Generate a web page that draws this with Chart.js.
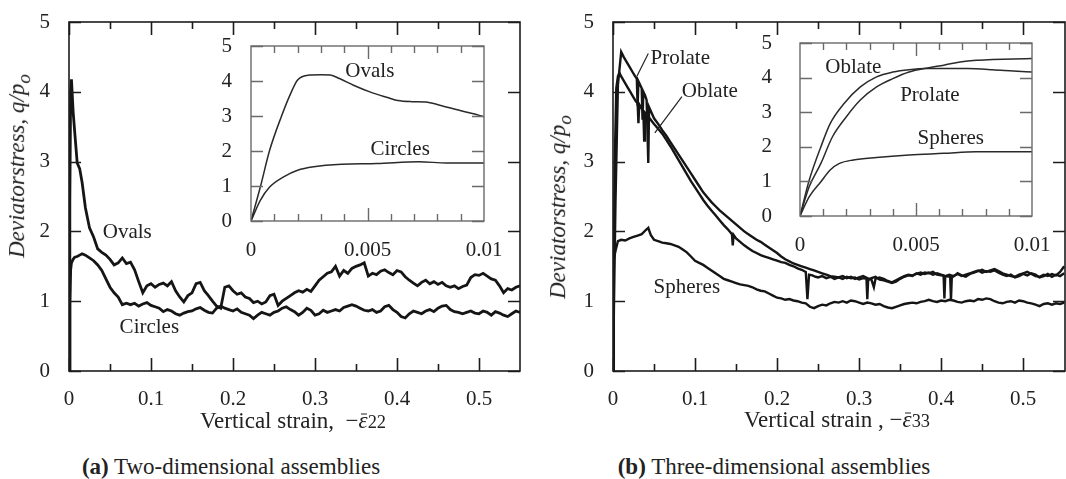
<!DOCTYPE html>
<html>
<head>
<meta charset="utf-8">
<script src="https://cdn.jsdelivr.net/npm/chart.js@4.4.1/dist/chart.umd.min.js"></script>
<style>
  body { margin: 0; background: #fff; }
  #page { position: relative; width: 1066px; height: 479px; overflow: hidden; font-family: "Liberation Serif", "DejaVu Serif", serif; color: #222; }
  canvas { position: absolute; }
  .txt { position: absolute; white-space: nowrap; transform: translate(-50%, -50%); line-height: 1; }
  .ytitle { font-style: italic; font-size: 23px; transform: translate(-50%, -50%) rotate(-90deg); }
  .xtitle { font-size: 23px; }
  .cap { font-size: 23px; }
  .ob { position: relative; font-style: italic; }
  .ob::before { content: ""; position: absolute; left: 0.12em; right: 0.02em; top: 0.28em; border-top: 1.3px solid #222; }
  .sm { font-size: 0.8em; }
</style>
</head>
<body>
<div id="page">
  <canvas id="mainA" width="540" height="440" style="left:0;top:-20px"></canvas>
  <canvas id="insetA" width="302" height="264" style="left:212px;top:6px"></canvas>
  <canvas id="mainB" width="526" height="440" style="left:540px;top:-20px"></canvas>
  <canvas id="insetB" width="302" height="265" style="left:760px;top:3px"></canvas>

  <div class="txt ytitle" style="left:19px;top:166px">Deviatorstress, q/p<sub>o</sub></div>
  <div class="txt ytitle" style="left:560px;top:207px">Deviatorstress, q/p<sub>o</sub></div>
  <div class="txt xtitle" style="left:293px;top:420px">Vertical strain,&nbsp; −<span class="ob">ε</span><span class="sm">22</span></div>
  <div class="txt xtitle" style="left:837px;top:419px">Vertical strain , −<span class="ob">ε</span><span class="sm">33</span></div>
  <div class="txt cap" style="left:231px;top:466px"><b>(a)</b> Two-dimensional assemblies</div>
  <div class="txt cap" style="left:774px;top:466px"><b>(b)</b> Three-dimensional assemblies</div>
</div>
<script>
// ---- tick values ----
const stressTicks = [0, 1, 2, 3, 4, 5];
const strainTicks = [0, 0.1, 0.2, 0.3, 0.4, 0.5];
const strainMinor = [0.05, 0.15, 0.25, 0.35, 0.45];
const smallStrainTicks = [0, 0.005, 0.01];
const smallStrainMinor = [0.001, 0.002, 0.003, 0.004, 0.006, 0.007, 0.008, 0.009];

// ---- (a) two-dimensional assemblies: [strain, q/p0] ----
const ovals2d = [
  [0,0],[0.001,2.4],[0.002,4.0],[0.003,4.18],[0.005,3.72],[0.007,3.42],[0.01,2.98],[0.013,2.9],[0.016,2.7],
  [0.02,2.34],[0.025,2.05],[0.03,1.92],[0.035,1.75],[0.04,1.7],[0.045,1.66],[0.05,1.6],[0.055,1.52],[0.06,1.55],
  [0.065,1.62],[0.07,1.54],[0.075,1.56],[0.08,1.45],[0.085,1.28],[0.09,1.12],[0.095,1.22],[0.1,1.25],[0.105,1.2],
  [0.11,1.24],[0.115,1.26],[0.12,1.22],[0.125,1.28],[0.13,1.15],[0.135,1.06],[0.14,0.99],[0.145,1.08],[0.15,1.12],
  [0.155,1.25],[0.16,1.27],[0.165,1.15],[0.17,1.08],[0.175,1.0],[0.18,0.93],[0.185,0.9],[0.19,1.2],[0.195,1.22],
  [0.2,1.15],[0.205,1.1],[0.21,1.12],[0.215,1.06],[0.22,1.04],[0.225,0.98],[0.23,1.0],[0.235,0.96],[0.24,0.99],
  [0.245,1.08],[0.25,1.1],[0.255,0.94],[0.26,1.0],[0.265,1.04],[0.27,1.08],[0.275,1.12],[0.28,1.15],[0.285,1.13],
  [0.29,1.17],[0.295,1.14],[0.3,1.22],[0.305,1.3],[0.31,1.35],[0.315,1.4],[0.32,1.42],[0.325,1.5],[0.33,1.36],
  [0.335,1.44],[0.34,1.4],[0.345,1.47],[0.35,1.5],[0.355,1.52],[0.36,1.55],[0.365,1.36],[0.37,1.4],[0.375,1.38],
  [0.38,1.43],[0.385,1.45],[0.39,1.41],[0.395,1.38],[0.4,1.44],[0.405,1.42],[0.41,1.35],[0.415,1.3],[0.42,1.26],
  [0.425,1.22],[0.43,1.27],[0.435,1.3],[0.44,1.25],[0.445,1.28],[0.45,1.24],[0.455,1.27],[0.46,1.22],[0.465,1.2],
  [0.47,1.22],[0.475,1.18],[0.48,1.21],[0.485,1.23],[0.49,1.34],[0.495,1.38],[0.5,1.37],[0.505,1.4],[0.51,1.36],
  [0.515,1.32],[0.52,1.3],[0.525,1.22],[0.53,1.12],[0.535,1.18],[0.54,1.16],[0.545,1.2],[0.55,1.22]
];
const circles2d = [
  [0,0],[0.001,0.95],[0.002,1.45],[0.003,1.55],[0.005,1.6],[0.007,1.63],[0.01,1.64],[0.013,1.66],[0.016,1.68],
  [0.02,1.66],[0.025,1.62],[0.03,1.58],[0.035,1.52],[0.04,1.44],[0.045,1.32],[0.05,1.2],[0.055,1.12],[0.06,1.06],
  [0.065,0.95],[0.07,0.97],[0.075,0.95],[0.08,0.97],[0.085,0.93],[0.09,0.96],[0.095,0.98],[0.1,0.94],[0.105,0.92],
  [0.11,0.9],[0.115,0.85],[0.12,0.88],[0.125,0.86],[0.13,0.82],[0.135,0.8],[0.14,0.83],[0.145,0.85],[0.15,0.86],
  [0.155,0.89],[0.16,0.91],[0.165,0.87],[0.17,0.84],[0.175,0.83],[0.18,0.9],[0.185,0.93],[0.19,0.9],[0.195,0.88],
  [0.2,0.86],[0.205,0.89],[0.21,0.84],[0.215,0.82],[0.22,0.8],[0.225,0.75],[0.23,0.8],[0.235,0.84],[0.24,0.82],
  [0.245,0.8],[0.25,0.84],[0.255,0.86],[0.26,0.9],[0.265,0.92],[0.27,0.88],[0.275,0.85],[0.28,0.8],[0.285,0.84],
  [0.29,0.9],[0.295,0.87],[0.3,0.8],[0.305,0.82],[0.31,0.87],[0.315,0.84],[0.32,0.86],[0.325,0.88],[0.33,0.86],
  [0.335,0.91],[0.34,0.93],[0.345,0.95],[0.35,0.93],[0.355,0.9],[0.36,0.87],[0.365,0.86],[0.37,0.88],[0.375,0.84],
  [0.38,0.86],[0.385,0.92],[0.39,0.94],[0.395,0.88],[0.4,0.84],[0.405,0.78],[0.41,0.76],[0.415,0.82],[0.42,0.86],
  [0.425,0.84],[0.43,0.82],[0.435,0.86],[0.44,0.88],[0.445,0.85],[0.45,0.9],[0.455,0.93],[0.46,0.94],[0.465,0.88],
  [0.47,0.85],[0.475,0.84],[0.48,0.82],[0.485,0.84],[0.49,0.86],[0.495,0.83],[0.5,0.82],[0.505,0.86],[0.51,0.84],
  [0.515,0.8],[0.52,0.85],[0.525,0.83],[0.53,0.8],[0.535,0.78],[0.54,0.82],[0.545,0.86],[0.55,0.84]
];
const ovals2dSmall = [
  [0,0],[0.0004,0.97],[0.0008,2.02],[0.0013,2.98],[0.0017,3.64],[0.002,4.03],[0.0025,4.17],[0.003,4.18],
  [0.0034,4.17],[0.0038,4.07],[0.0044,3.88],[0.0051,3.69],[0.0059,3.52],[0.0063,3.44],[0.0069,3.41],
  [0.0075,3.4],[0.0081,3.31],[0.0089,3.17],[0.0095,3.07],[0.01,2.98]
];
const circles2dSmall = [
  [0,0],[0.0004,0.59],[0.0008,0.97],[0.0014,1.26],[0.002,1.45],[0.0027,1.55],[0.0039,1.62],[0.0054,1.64],
  [0.0072,1.69],[0.0084,1.66],[0.01,1.66]
];

// ---- (b) three-dimensional assemblies ----
const prolate3d = [
  [0,0],[0.003,2.4],[0.006,4.1],[0.01,4.57],[0.013,4.5],[0.016,4.44],[0.02,4.36],[0.024,4.28],[0.027,4.22],
  [0.029,4.19],[0.03,3.8],[0.031,4.15],[0.033,4.1],[0.035,4.05],[0.036,3.6],[0.037,4.0],[0.039,3.95],[0.041,3.88],
  [0.043,2.98],[0.044,3.78],[0.047,3.7],[0.05,3.62],[0.055,3.54],[0.06,3.45],[0.065,3.37],[0.07,3.28],[0.075,3.19],
  [0.08,3.1],[0.085,3.01],[0.09,2.92],[0.095,2.83],[0.1,2.74],[0.105,2.65],[0.11,2.56],[0.115,2.49],[0.12,2.42],
  [0.125,2.36],[0.13,2.3],[0.135,2.25],[0.14,2.2],[0.145,2.15],[0.15,2.1],[0.155,2.05],[0.16,2.0],[0.165,1.96],
  [0.17,1.92],[0.175,1.88],[0.18,1.85],[0.185,1.81],[0.19,1.77],[0.195,1.73],[0.2,1.69],[0.205,1.64],[0.21,1.6],
  [0.215,1.57],[0.22,1.54],[0.225,1.52],[0.23,1.5],[0.235,1.48],[0.24,1.46],[0.245,1.44],[0.25,1.42],[0.255,1.4],
  [0.26,1.38],[0.265,1.36],[0.27,1.35],[0.275,1.34],[0.28,1.32],[0.285,1.35],[0.29,1.33],[0.295,1.34],[0.3,1.31],
  [0.305,1.33],[0.309,1.32],[0.31,1.03],[0.311,1.3],[0.315,1.33],[0.32,1.35],[0.325,1.31],[0.33,1.3],[0.335,1.28],
  [0.34,1.26],[0.345,1.28],[0.35,1.32],[0.355,1.35],[0.36,1.37],[0.365,1.36],[0.37,1.4],[0.375,1.38],[0.38,1.41],
  [0.385,1.4],[0.39,1.42],[0.395,1.38],[0.4,1.37],[0.405,1.36],[0.411,1.35],[0.412,1.02],[0.413,1.34],[0.418,1.38],
  [0.42,1.4],[0.425,1.37],[0.43,1.35],[0.435,1.39],[0.44,1.41],[0.445,1.43],[0.45,1.45],[0.455,1.42],[0.46,1.44],
  [0.465,1.46],[0.47,1.43],[0.475,1.4],[0.48,1.38],[0.485,1.36],[0.49,1.35],[0.495,1.38],[0.5,1.4],[0.505,1.42],
  [0.51,1.39],[0.515,1.36],[0.52,1.35],[0.525,1.38],[0.53,1.36],[0.535,1.39],[0.54,1.37],[0.545,1.42],[0.55,1.5]
];
const oblate3d = [
  [0,0],[0.002,2.9],[0.004,4.05],[0.006,4.22],[0.008,4.27],[0.01,4.22],[0.013,4.16],[0.016,4.1],[0.02,4.02],
  [0.025,3.92],[0.028,3.86],[0.03,3.84],[0.031,3.55],[0.032,3.82],[0.035,3.76],[0.037,3.72],[0.038,3.3],[0.039,3.7],
  [0.042,3.66],[0.046,3.6],[0.05,3.54],[0.055,3.47],[0.06,3.4],[0.065,3.31],[0.07,3.22],[0.075,3.12],[0.08,3.02],
  [0.085,2.92],[0.09,2.82],[0.095,2.72],[0.1,2.63],[0.105,2.54],[0.11,2.45],[0.115,2.37],[0.12,2.3],[0.125,2.23],
  [0.13,2.16],[0.135,2.09],[0.14,2.03],[0.145,1.96],[0.146,1.8],[0.147,1.95],[0.15,1.9],[0.155,1.85],[0.16,1.8],
  [0.165,1.76],[0.17,1.72],[0.175,1.69],[0.18,1.66],[0.185,1.64],[0.19,1.62],[0.195,1.6],[0.2,1.58],[0.205,1.56],
  [0.21,1.55],[0.215,1.52],[0.22,1.5],[0.225,1.47],[0.23,1.45],[0.235,1.42],[0.237,1.03],[0.239,1.38],[0.243,1.37],
  [0.247,1.35],[0.25,1.34],[0.255,1.36],[0.26,1.33],[0.265,1.35],[0.27,1.32],[0.275,1.34],[0.28,1.36],[0.285,1.33],
  [0.29,1.35],[0.295,1.32],[0.3,1.34],[0.305,1.36],[0.31,1.33],[0.315,1.31],[0.318,1.2],[0.32,1.32],[0.325,1.34],
  [0.33,1.32],[0.335,1.29],[0.34,1.27],[0.345,1.3],[0.35,1.33],[0.355,1.36],[0.36,1.38],[0.365,1.37],[0.37,1.39],
  [0.375,1.41],[0.38,1.39],[0.385,1.41],[0.39,1.38],[0.395,1.4],[0.4,1.38],[0.403,1.37],[0.404,1.04],[0.405,1.36],
  [0.41,1.38],[0.415,1.36],[0.42,1.39],[0.425,1.36],[0.43,1.38],[0.435,1.4],[0.44,1.42],[0.445,1.44],[0.45,1.41],
  [0.455,1.43],[0.46,1.42],[0.465,1.44],[0.47,1.41],[0.475,1.38],[0.48,1.36],[0.485,1.38],[0.49,1.34],[0.495,1.36],
  [0.5,1.39],[0.505,1.37],[0.51,1.4],[0.515,1.38],[0.52,1.34],[0.525,1.36],[0.53,1.39],[0.535,1.35],[0.54,1.38],
  [0.545,1.36],[0.55,1.4]
];
const spheres3d = [
  [0,0],[0.001,1.6],[0.003,1.72],[0.006,1.86],[0.01,1.88],[0.015,1.87],[0.02,1.9],[0.025,1.92],[0.03,1.94],
  [0.035,1.96],[0.04,2.02],[0.043,2.05],[0.046,1.95],[0.05,1.88],[0.055,1.86],[0.06,1.84],[0.065,1.83],[0.07,1.82],
  [0.075,1.8],[0.08,1.78],[0.085,1.74],[0.09,1.7],[0.095,1.64],[0.1,1.58],[0.105,1.55],[0.11,1.52],[0.115,1.48],
  [0.12,1.44],[0.125,1.4],[0.13,1.36],[0.135,1.32],[0.14,1.3],[0.145,1.28],[0.15,1.26],[0.155,1.24],[0.16,1.23],
  [0.165,1.22],[0.17,1.2],[0.175,1.17],[0.18,1.15],[0.185,1.14],[0.19,1.11],[0.195,1.08],[0.2,1.05],[0.205,1.04],
  [0.21,1.02],[0.215,1.03],[0.22,1.01],[0.225,1.0],[0.23,0.98],[0.235,0.97],[0.24,0.92],[0.245,0.9],[0.25,0.93],
  [0.255,0.95],[0.26,0.94],[0.265,0.97],[0.27,0.99],[0.275,0.98],[0.28,1.0],[0.285,0.98],[0.29,1.01],[0.295,1.0],
  [0.3,0.98],[0.305,0.96],[0.31,0.98],[0.315,0.97],[0.32,0.95],[0.325,0.96],[0.33,0.93],[0.335,0.91],[0.34,0.9],
  [0.345,0.92],[0.35,0.94],[0.355,0.96],[0.36,0.97],[0.365,0.98],[0.37,0.97],[0.375,0.99],[0.38,1.0],[0.385,1.02],
  [0.39,1.0],[0.395,0.99],[0.4,1.01],[0.405,1.0],[0.41,1.02],[0.415,1.01],[0.42,0.99],[0.425,0.98],[0.43,1.0],
  [0.435,1.01],[0.44,1.0],[0.445,1.03],[0.45,1.02],[0.455,1.04],[0.46,1.03],[0.465,1.0],[0.47,0.98],[0.475,0.97],
  [0.48,0.99],[0.485,1.0],[0.49,0.98],[0.495,1.01],[0.5,1.0],[0.505,0.98],[0.51,0.97],[0.515,0.95],[0.52,0.93],
  [0.525,0.96],[0.53,0.97],[0.535,0.95],[0.54,0.97],[0.545,0.96],[0.55,0.98]
];
const oblate3dSmall = [
  [0,0],[0.0004,1.04],[0.0009,2.0],[0.0013,2.67],[0.0019,3.25],[0.0026,3.73],[0.0033,4.02],[0.004,4.16],
  [0.0047,4.23],[0.0055,4.26],[0.0062,4.26],[0.0072,4.26],[0.0083,4.23],[0.0092,4.19],[0.01,4.16]
];
const prolate3dSmall = [
  [0,0],[0.0004,0.85],[0.0009,1.52],[0.0014,2.29],[0.002,2.87],[0.0026,3.35],[0.0033,3.73],[0.004,3.97],
  [0.0047,4.16],[0.0055,4.28],[0.0062,4.36],[0.0069,4.45],[0.0076,4.5],[0.0083,4.52],[0.0092,4.54],[0.01,4.55]
];
const spheres3dSmall = [
  [0,0],[0.0004,0.56],[0.0009,0.99],[0.0013,1.33],[0.0017,1.52],[0.0023,1.62],[0.0033,1.69],[0.0047,1.76],
  [0.0062,1.81],[0.0076,1.86],[0.01,1.86]
];

const FONT = '"Liberation Serif", "DejaVu Serif", serif';
const INK = '#222';

// box frame plus inward tick marks on all four sides
const framePlugin = {
  id: 'frame',
  afterDatasetsDraw(chart, args, o) {
    const { ctx, chartArea: a, scales: { x, y } } = chart;
    ctx.save();
    ctx.strokeStyle = o.color;
    ctx.lineWidth = o.width;
    ctx.beginPath();
    const seg = (x1, y1, x2, y2) => { ctx.moveTo(x1, y1); ctx.lineTo(x2, y2); };
    const xt = (v, len) => {
      const p = Math.round(x.getPixelForValue(v)) + 0.5;
      seg(p, a.bottom, p, a.bottom - len);
      seg(p, a.top, p, a.top + len);
    };
    const yt = (v, len) => {
      const p = Math.round(y.getPixelForValue(v)) + 0.5;
      seg(a.left, p, a.left + len, p);
      seg(a.right, p, a.right - len, p);
    };
    o.xMajor.forEach(v => xt(v, o.xMajorLen));
    o.xMinor.forEach(v => xt(v, o.xMinorLen));
    o.yMajor.forEach(v => yt(v, o.yLen));
    ctx.stroke();
    ctx.strokeRect(a.left, a.top, a.right - a.left, a.bottom - a.top);
    ctx.restore();
  }
};

// curve names and leader lines, placed in data units
const notesPlugin = {
  id: 'notes',
  afterDraw(chart, args, o) {
    const { ctx, scales: { x, y } } = chart;
    ctx.save();
    ctx.fillStyle = INK;
    ctx.strokeStyle = INK;
    ctx.lineWidth = 1.2;
    ctx.font = o.size + 'px ' + FONT;
    ctx.textAlign = 'center';
    ctx.textBaseline = 'middle';
    (o.items || []).forEach(n => ctx.fillText(n.text, x.getPixelForValue(n.x), y.getPixelForValue(n.y)));
    (o.leaders || []).forEach(l => {
      ctx.beginPath();
      ctx.moveTo(x.getPixelForValue(l[0]), y.getPixelForValue(l[1]));
      ctx.lineTo(x.getPixelForValue(l[2]), y.getPixelForValue(l[3]));
      ctx.stroke();
    });
    ctx.restore();
  }
};

function plot(id, series, c) {
  return new Chart(document.getElementById(id), {
    type: 'scatter',
    data: {
      datasets: series.map(s => ({
        data: s.map(p => ({ x: p[0], y: p[1] })),
        showLine: true,
        pointRadius: 0,
        borderColor: c.lineColor,
        borderWidth: c.lineWidth,
        cubicInterpolationMode: c.smooth ? 'monotone' : 'default',
        tension: c.smooth ? 0.4 : 0,
        fill: false
      }))
    },
    options: {
      responsive: false,
      animation: false,
      devicePixelRatio: 1,
      layout: { padding: c.padding },
      plugins: {
        legend: { display: false },
        tooltip: { enabled: false },
        frame: c.frame,
        notes: c.notes
      },
      scales: {
        x: {
          type: 'linear', min: 0, max: c.xMax,
          grid: { display: false }, border: { display: false },
          ticks: { font: { family: FONT, size: c.tickSize }, color: INK, padding: c.xPad, maxRotation: 0, autoSkip: false,
                   callback: v => String(v) },
          afterBuildTicks: s => { s.ticks = c.xTicks.map(v => ({ value: v })); },
          afterFit: s => { s.height = c.xHeight; }
        },
        y: {
          type: 'linear', min: 0, max: 5,
          grid: { display: false }, border: { display: false },
          ticks: { font: { family: FONT, size: c.tickSize }, color: INK, padding: c.yPad,
                   callback: v => String(v) },
          afterBuildTicks: s => { s.ticks = stressTicks.map(v => ({ value: v })); },
          afterFit: s => { s.width = c.yWidth; }
        }
      }
    },
    plugins: [framePlugin, notesPlugin]
  });
}

const mainFrame = { color: '#1c1c1c', width: 1.6, xMajor: strainTicks, xMinor: strainMinor, xMajorLen: 13, xMinorLen: 7, yMajor: stressTicks, yLen: 12 };
const smallFrame = { color: '#6a6a6a', width: 1.4, xMajor: [0.005], xMinor: smallStrainMinor, xMajorLen: 13, xMinorLen: 7, yMajor: stressTicks, yLen: 12 };

// frames: (a) 69-520 x 22-371, inset 251-484 x 46-221; (b) 613-1065 x 22-371, inset 800-1032 x 43-216
plot('mainA', [ovals2d, circles2d], {
  xMax: 0.55, xTicks: strainTicks, tickSize: 21, xPad: 8, yPad: 11,
  xHeight: 49, yWidth: 69, padding: { top: 42, right: 20, left: 0, bottom: 0 },
  lineColor: '#151515', lineWidth: 2.8, smooth: false, frame: mainFrame,
  notes: { size: 21, items: [{ text: 'Ovals', x: 0.071, y: 1.98 }, { text: 'Circles', x: 0.098, y: 0.62 }] }
});

plot('insetA', [ovals2dSmall, circles2dSmall], {
  xMax: 0.01, xTicks: smallStrainTicks, tickSize: 21, xPad: 9, yPad: 11,
  xHeight: 49, yWidth: 39, padding: { top: 40, right: 30, left: 0, bottom: 0 },
  lineColor: '#2a2a2a', lineWidth: 1.5, smooth: true, frame: smallFrame,
  notes: { size: 21, items: [{ text: 'Ovals', x: 0.0051, y: 4.26 }, { text: 'Circles', x: 0.0064, y: 2.03 }] }
});

plot('mainB', [prolate3d, oblate3d, spheres3d], {
  xMax: 0.551, xTicks: strainTicks, tickSize: 21, xPad: 8, yPad: 11,
  xHeight: 49, yWidth: 73, padding: { top: 42, right: 1, left: 0, bottom: 0 },
  lineColor: '#151515', lineWidth: 2.4, smooth: false, frame: mainFrame,
  notes: {
    size: 21,
    items: [{ text: 'Prolate', x: 0.082, y: 4.48 }, { text: 'Oblate', x: 0.118, y: 4.0 }, { text: 'Spheres', x: 0.09, y: 1.19 }],
    leaders: [[0.043, 4.55, 0.029, 4.22], [0.084, 3.93, 0.051, 3.41]]
  }
});

plot('insetB', [oblate3dSmall, prolate3dSmall, spheres3dSmall], {
  xMax: 0.01, xTicks: smallStrainTicks, tickSize: 21, xPad: 9, yPad: 20,
  xHeight: 52, yWidth: 40, padding: { top: 40, right: 30, left: 0, bottom: 0 },
  lineColor: '#2a2a2a', lineWidth: 1.5, smooth: true, frame: smallFrame,
  notes: {
    size: 21,
    items: [{ text: 'Oblate', x: 0.0023, y: 4.28 }, { text: 'Prolate', x: 0.0056, y: 3.47 }, { text: 'Spheres', x: 0.0065, y: 2.25 }]
  }
});
</script>
</body>
</html>
